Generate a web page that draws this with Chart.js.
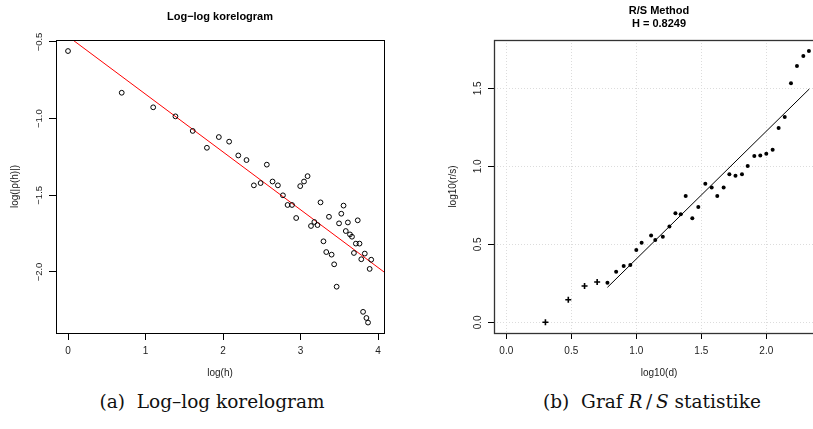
<!DOCTYPE html>
<html>
<head>
<meta charset="utf-8">
<script src="https://cdn.jsdelivr.net/npm/chart.js@4/dist/chart.umd.min.js"></script>
<style>
  html, body { margin: 0; padding: 0; background: #fff; }
  body { width: 813px; height: 429px; overflow: hidden; position: relative; }
  #korelogram { position: absolute; left: 0; top: 0; }
  #rs { position: absolute; left: 410px; top: 0; }
  .caption {
    position: absolute; top: 390px; height: 24px; line-height: 24px;
    font-family: "DejaVu Serif", serif; font-size: 18.5px; color: #111;
    text-align: center; white-space: nowrap;
  }
  #cap-a { left: 12px; width: 400px; }
  #cap-b { left: 452px; width: 400px; }
</style>
</head>
<body>
<canvas id="korelogram" width="410" height="385"></canvas>
<canvas id="rs" width="420" height="385"></canvas>
<div class="caption" id="cap-a">(a)&nbsp; Log–log korelogram</div>
<div class="caption" id="cap-b">(b)&nbsp; Graf <i>R</i>&thinsp;/&thinsp;<i>S</i> statistike</div>

<script>
// --- (a) log-log correlogram data ---
const logLag = [0, 0.693, 1.099, 1.386, 1.609, 1.792, 1.946, 2.079, 2.197, 2.303,
  2.398, 2.485, 2.565, 2.639, 2.708, 2.773, 2.833, 2.890, 2.944, 2.996,
  3.045, 3.091, 3.135, 3.178, 3.219, 3.258, 3.296, 3.332, 3.367, 3.401,
  3.434, 3.466, 3.497, 3.526, 3.555, 3.584, 3.611, 3.638, 3.664, 3.689,
  3.714, 3.738, 3.761, 3.784, 3.807, 3.829, 3.850, 3.871, 3.892, 3.912];
const logAcf = [-0.559, -0.831, -0.926, -0.985, -1.08, -1.19, -1.12, -1.15, -1.24, -1.27,
  -1.435, -1.42, -1.30, -1.41, -1.435, -1.50, -1.563, -1.563, -1.648, -1.44,
  -1.41, -1.375, -1.70, -1.674, -1.694, -1.546, -1.80, -1.87, -1.64, -1.887,
  -1.95, -2.096, -1.683, -1.62, -1.567, -1.733, -1.677, -1.755, -1.77, -1.876,
  -1.815, -1.663, -1.815, -1.917, -2.26, -1.88, -2.30, -2.33, -1.98, -1.92];
// regression line (ends at the plot limits)
const acfFitX = [-0.16, 4.08];
const acfFitY = [-0.403, -2.001];
const acfXTicks = [0, 1, 2, 3, 4];
const acfXLabels = ['0', '1', '2', '3', '4'];
const acfYTicks = [-2.0, -1.5, -1.0, -0.5];
const acfYLabels = ['\u22122.0', '\u22121.5', '\u22121.0', '\u22120.5'];

// --- (b) R/S data ---
const rsSmallD = [0.301, 0.477, 0.602, 0.699];
const rsSmallV = [0.0, 0.145, 0.233, 0.258];
const rsD = [0.778, 0.845, 0.903, 0.954, 1.000, 1.041, 1.114, 1.146, 1.204, 1.255,
  1.301, 1.342, 1.380, 1.431, 1.477, 1.531, 1.580, 1.623, 1.672, 1.716,
  1.763, 1.813, 1.857, 1.908, 1.954, 2.000, 2.049, 2.095, 2.142, 2.190,
  2.236, 2.285, 2.328];
const rsV = [0.254, 0.324, 0.361, 0.367, 0.463, 0.51, 0.557, 0.528, 0.549, 0.615,
  0.699, 0.692, 0.81, 0.667, 0.739, 0.888, 0.865, 0.81, 0.865, 0.95,
  0.94, 0.95, 1.002, 1.066, 1.07, 1.081, 1.106, 1.245, 1.316, 1.532,
  1.643, 1.707, 1.739];
const rsFitX = [0.778, 2.331];
const rsFitY = [0.224, 1.496];
const rsXTicks = [0, 0.5, 1.0, 1.5, 2.0];
const rsXLabels = ['0.0', '0.5', '1.0', '1.5', '2.0'];
const rsYTicks = [0, 0.5, 1.0, 1.5];
const rsYLabels = ['0.0', '0.5', '1.0', '1.5'];

const FONT = '"Liberation Sans", Arial, Helvetica, sans-serif';
Chart.defaults.font.family = FONT;
Chart.defaults.color = '#222';

function pts(xs, ys) {
  return xs.map((x, i) => ({ x: x, y: ys[i] }));
}

// draws the R style box round the plot region and the bold title lines
const rBox = {
  id: 'rBox',
  afterDraw(chart, args, opts) {
    const { ctx, chartArea: a } = chart;
    ctx.save();
    ctx.strokeStyle = opts.color || '#000';
    ctx.lineWidth = opts.width || 1;
    ctx.strokeRect(a.left + 0.5, a.top + 0.5, a.right - a.left, a.bottom - a.top);
    ctx.fillStyle = '#000';
    ctx.font = 'bold 11px ' + FONT;
    ctx.textAlign = 'center';
    ctx.textBaseline = 'middle';
    const cx = (a.left + a.right) / 2;
    (opts.title || []).forEach((line, i) => {
      ctx.fillText(line, cx, opts.titleY[i]);
    });
    ctx.restore();
  }
};

function fixedTicks(values) {
  return scale => { scale.ticks = values.map(v => ({ value: v })); };
}

// (a) Log-log korelogram
new Chart(document.getElementById('korelogram'), {
  type: 'scatter',
  data: {
    datasets: [
      {
        data: pts(logLag, logAcf),
        pointStyle: 'circle',
        pointRadius: 2.4,
        borderColor: '#000',
        backgroundColor: 'rgba(0,0,0,0)',
        borderWidth: 1
      },
      {
        data: pts(acfFitX, acfFitY),
        showLine: true,
        pointRadius: 0,
        borderColor: '#ff0000',
        borderWidth: 1
      }
    ]
  },
  options: {
    responsive: false,
    animation: false,
    events: [],
    layout: { padding: { top: 40, right: 26, left: 0, bottom: 0 } },
    plugins: {
      legend: { display: false },
      tooltip: { enabled: false },
      rBox: { color: '#000', width: 1, title: ['Log\u2212log korelogram'], titleY: [17] }
    },
    scales: {
      x: {
        type: 'linear',
        min: -0.155,
        max: 4.077,
        afterBuildTicks: fixedTicks(acfXTicks),
        afterFit: s => { s.height = 52; },
        ticks: {
          autoSkip: false, maxRotation: 0, padding: 5,
          font: { size: 10 },
          callback: (v, i) => acfXLabels[i]
        },
        grid: { drawOnChartArea: false, tickLength: 7, tickColor: '#000' },
        border: { display: false },
        title: { display: true, text: 'log(h)', font: { size: 10 }, padding: { top: 0, bottom: 6 }, color: '#222' }
      },
      y: {
        type: 'linear',
        min: -2.398,
        max: -0.487,
        afterBuildTicks: fixedTicks(acfYTicks),
        afterFit: s => { s.width = 56; },
        ticks: {
          autoSkip: false, minRotation: 90, maxRotation: 90, crossAlign: 'center', padding: 0,
          font: { size: 9.5 },
          callback: (v, i) => acfYLabels[i]
        },
        grid: { drawOnChartArea: false, tickLength: 7, tickColor: '#000' },
        border: { display: false },
        title: { display: true, text: 'log(|\u03c1(h)|)', font: { size: 10 }, padding: { top: 9, bottom: 0 }, color: '#222' }
      }
    }
  },
  plugins: [rBox]
});

// (b) Graf R/S statistike
new Chart(document.getElementById('rs'), {
  type: 'scatter',
  data: {
    datasets: [
      {
        data: pts(rsD, rsV),
        pointStyle: 'circle',
        pointRadius: 2,
        borderWidth: 0,
        backgroundColor: '#000'
      },
      {
        data: pts(rsSmallD, rsSmallV),
        pointStyle: 'cross',
        pointRadius: 3,
        borderColor: '#000',
        borderWidth: 1.6
      },
      {
        data: pts(rsFitX, rsFitY),
        showLine: true,
        pointRadius: 0,
        borderColor: '#000',
        borderWidth: 1
      }
    ]
  },
  options: {
    responsive: false,
    animation: false,
    events: [],
    layout: { padding: { top: 40, right: 6, left: 0, bottom: 0 } },
    plugins: {
      legend: { display: false },
      tooltip: { enabled: false },
      rBox: { color: '#333', width: 1.3, title: ['R/S Method', 'H = 0.8249'], titleY: [11, 24] }
    },
    scales: {
      x: {
        type: 'linear',
        min: -0.0946,
        max: 2.444,
        afterBuildTicks: fixedTicks(rsXTicks),
        afterFit: s => { s.height = 52; },
        ticks: {
          autoSkip: false, maxRotation: 0, padding: 6,
          font: { size: 10 },
          callback: (v, i) => rsXLabels[i]
        },
        grid: { color: '#dcdcdc', tickLength: 6, tickColor: '#000' },
        border: { display: false, dash: [1, 2] },
        title: { display: true, text: 'log10(d)', font: { size: 10 }, padding: { top: 0, bottom: 6 }, color: '#222' }
      },
      y: {
        type: 'linear',
        min: -0.0686,
        max: 1.81,
        afterBuildTicks: fixedTicks(rsYTicks),
        afterFit: s => { s.width = 84; },
        ticks: {
          autoSkip: false, minRotation: 90, maxRotation: 90, crossAlign: 'center', padding: 3,
          font: { size: 10 },
          callback: (v, i) => rsYLabels[i]
        },
        grid: { color: '#dcdcdc', tickLength: 6, tickColor: '#000' },
        border: { display: false, dash: [1, 2] },
        title: { display: true, text: 'log10(r/s)', font: { size: 10 }, padding: { top: 37, bottom: 0 }, color: '#222' }
      }
    }
  },
  plugins: [rBox]
});
</script>
</body>
</html>
